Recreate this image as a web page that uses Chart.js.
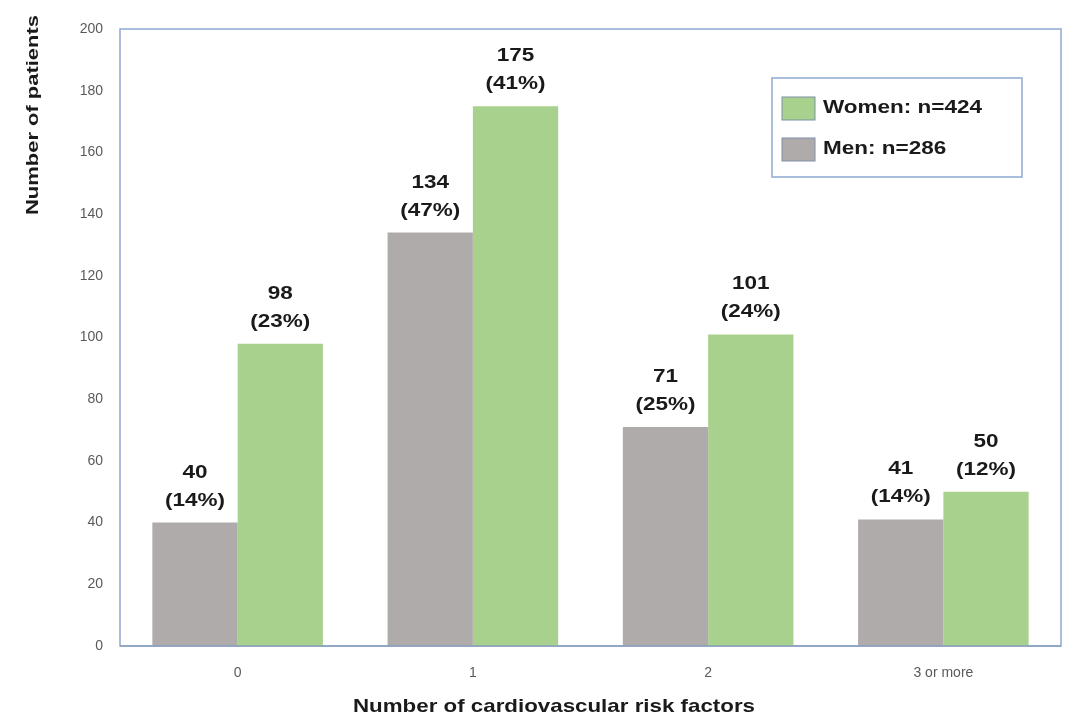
<!DOCTYPE html>
<html>
<head>
<meta charset="utf-8">
<script src="https://cdn.jsdelivr.net/npm/chart.js@4/dist/chart.umd.min.js"></script>
<style>
html,body{margin:0;padding:0;background:#fff;}
#wrap{width:1080px;height:724px;position:relative;}
</style>
</head>
<body>
<div id="wrap"><canvas id="c" width="1080" height="724"></canvas></div>
<script>
const categories = ['0', '1', '2', '3 or more'];
const menValues = [40, 134, 71, 41];
const womenValues = [98, 175, 101, 50];
const menPercent = ['14%', '47%', '25%', '14%'];
const womenPercent = ['23%', '41%', '24%', '12%'];
const yTicks = [0, 20, 40, 60, 80, 100, 120, 140, 160, 180, 200];
const seriesNames = ['Men: n=286', 'Women: n=424'];
const yTitle = 'Number of patients';
const xTitle = 'Number of cardiovascular risk factors';

const GREY = '#afabab';
const GREEN = '#a9d18e';
const BORDER = '#8faad0';
const FONT = '"Liberation Sans", Arial, sans-serif';

function stretchText(ctx, text, x, y, sx) {
  ctx.save();
  ctx.translate(x, y);
  ctx.scale(sx, 1);
  ctx.fillText(text, 0, 0);
  ctx.restore();
}
function fitText(ctx, text, x, y, width) {
  const w = ctx.measureText(text).width;
  stretchText(ctx, text, x, y, width / w);
}

const boxPlugin = {
  id: 'boxPlugin',
  beforeDatasetsDraw(chart) {
    const a = chart.chartArea, ctx = chart.ctx;
    ctx.save();
    ctx.strokeStyle = BORDER;
    ctx.lineWidth = 1.5;
    ctx.strokeRect(a.left, a.top, a.right - a.left, a.bottom - a.top);
    ctx.restore();
  },
  afterDatasetsDraw(chart) {
    const ctx = chart.ctx;
    const a = chart.chartArea;
    ctx.save();
    ctx.strokeStyle = '#8a9fbd';
    ctx.lineWidth = 1.5;
    ctx.beginPath(); ctx.moveTo(a.left, a.bottom); ctx.lineTo(a.right, a.bottom); ctx.stroke();
    // value labels
    ctx.fillStyle = '#1a1a1a';
    ctx.font = 'bold 18px ' + FONT;
    ctx.textAlign = 'center';
    ctx.textBaseline = 'middle';
    const pcts = [menPercent, womenPercent];
    chart.data.datasets.forEach((ds, i) => {
      chart.getDatasetMeta(i).data.forEach((bar, j) => {
        stretchText(ctx, '(' + pcts[i][j] + ')', bar.x, bar.y - 22, 1.25);
        stretchText(ctx, String(ds.data[j]), bar.x, bar.y - 50, 1.25);
      });
    });
    // legend box
    const lx = 772, ly = 78, lw = 250, lh = 99;
    ctx.fillStyle = '#fff';
    ctx.fillRect(lx, ly, lw, lh);
    ctx.strokeStyle = BORDER;
    ctx.lineWidth = 1.5;
    ctx.strokeRect(lx, ly, lw, lh);
    const items = [
      {c: GREEN, t: chart.data.datasets[1].label, y: 97},
      {c: GREY, t: chart.data.datasets[0].label, y: 138}
    ];
    items.forEach(it => {
      ctx.fillStyle = it.c;
      ctx.fillRect(782, it.y, 33, 23);
      ctx.strokeStyle = '#7f8fa8';
      ctx.lineWidth = 1;
      ctx.strokeRect(782, it.y, 33, 23);
      ctx.fillStyle = '#1a1a1a';
      ctx.font = 'bold 18px ' + FONT;
      ctx.textAlign = 'left';
      ctx.textBaseline = 'middle';
      stretchText(ctx, it.t, 823, it.y + 11.5, 1.25);
    });
    // axis titles
    ctx.fillStyle = '#1a1a1a';
    ctx.font = 'bold 19px ' + FONT;
    ctx.textAlign = 'center';
    ctx.textBaseline = 'middle';
    fitText(ctx, xTitle, 554, 707, 402);
    ctx.save();
    ctx.translate(34, 115);
    ctx.rotate(-Math.PI / 2);
    ctx.font = 'bold 16px ' + FONT;
    fitText(ctx, yTitle, 0, 0, 200);
    ctx.restore();
    ctx.restore();
  }
};

new Chart(document.getElementById('c'), {
  type: 'bar',
  data: {
    labels: categories,
    datasets: [
      {label: seriesNames[0], data: menValues, backgroundColor: GREY, borderWidth: 0},
      {label: seriesNames[1], data: womenValues, backgroundColor: GREEN, borderWidth: 0}
    ]
  },
  options: {
    responsive: false,
    animation: false,
    devicePixelRatio: 1,
    layout: {padding: {left: 0, top: 29, right: 19, bottom: 0}},
    plugins: {legend: {display: false}, tooltip: {enabled: false}},
    datasets: {bar: {categoryPercentage: 0.725, barPercentage: 1}},
    scales: {
      x: {
        grid: {display: false, drawTicks: false},
        border: {display: false},
        ticks: {color: '#5a5a5a', font: {family: FONT, size: 14}, padding: 19},
        afterFit(s) { s.height = 78; }
      },
      y: {
        min: 0, max: 200,
        afterBuildTicks(s) { s.ticks = yTicks.map(v => ({value: v})); },
        grid: {display: false, drawTicks: false},
        border: {display: false},
        ticks: {color: '#5a5a5a', font: {family: FONT, size: 14}, padding: 17},
        afterFit(s) { s.width = 120; }
      }
    }
  },
  plugins: [boxPlugin]
});
</script>
</body>
</html>
